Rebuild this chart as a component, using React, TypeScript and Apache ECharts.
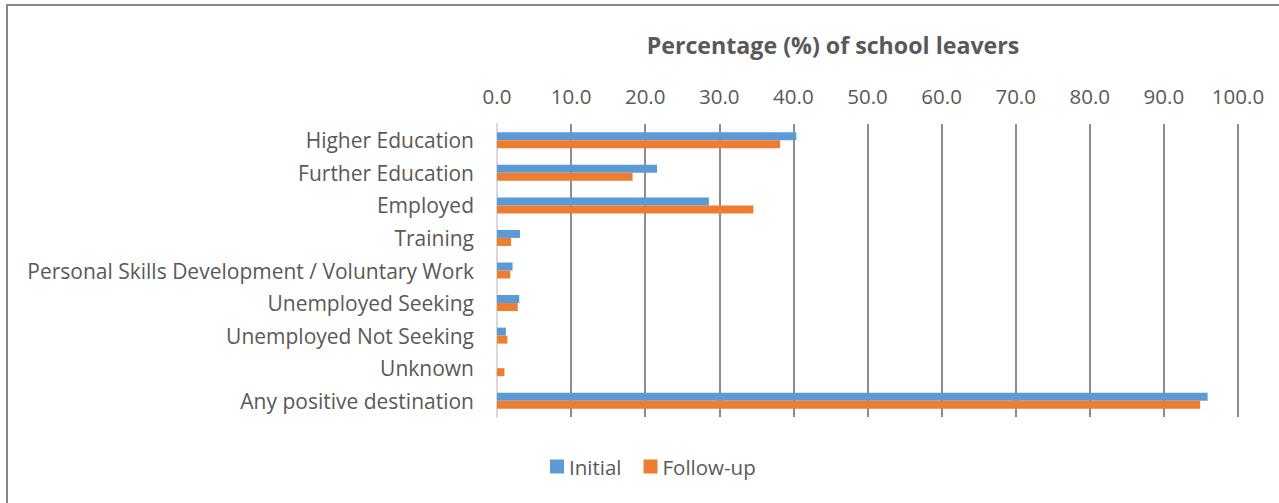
import React, { useEffect, useRef } from "react";
import * as echarts from "echarts";

const categories = [
  "Higher Education",
  "Further Education",
  "Employed",
  "Training",
  "Personal Skills Development / Voluntary Work",
  "Unemployed Seeking",
  "Unemployed Not Seeking",
  "Unknown",
  "Any positive destination",
];
const initial = [40.4, 21.6, 28.6, 3.1, 2.1, 3.0, 1.2, 0.0, 95.9];
const followUp = [38.2, 18.3, 34.6, 1.9, 1.8, 2.8, 1.4, 1.0, 94.9];
const seriesNames = ["Initial", "Follow-up"];
const title = "Percentage (%) of school leavers";

const FONT = "'Open Sans', 'Noto Sans', sans-serif";
const TEXT = "#595959";

export default function App() {
  const ref = useRef<HTMLDivElement>(null);
  useEffect(() => {
    if (!ref.current) return;
    const chart = echarts.init(ref.current, undefined, { renderer: "svg" });
    chart.setOption({
      animation: false,
      backgroundColor: "#ffffff",
      textStyle: { fontFamily: FONT },
      title: {
        text: title,
        left: 828,
        top: 28,
        textAlign: "center",
        textStyle: { fontFamily: FONT, fontWeight: "bold", fontSize: 23.2, color: TEXT },
      },
      legend: {
        bottom: 21,
        left: 545,
        itemWidth: 14,
        itemHeight: 14,
        itemGap: 22,
        icon: "rect",
        textStyle: { fontFamily: FONT, fontSize: 20.5, color: TEXT, padding: [0, 0, 0, 0] },
        data: seriesNames,
      },
      grid: { left: 497, right: 41, top: 124, height: 293, containLabel: false },
      xAxis: {
        type: "value",
        position: "top",
        min: 0,
        max: 100,
        interval: 10,
        axisLine: { show: false },
        axisTick: { show: false },
        axisLabel: {
          formatter: (v: number) => v.toFixed(1),
          fontFamily: FONT,
          fontSize: 20.5,
          color: TEXT,
          margin: 18,
        },
        splitLine: { show: true, lineStyle: { color: "#8c8c8c", width: 2 } },
      },
      yAxis: {
        type: "category",
        data: categories,
        inverse: true,
        axisLine: { show: true, lineStyle: { color: "#d9d9d9", width: 2 } },
        axisTick: { show: false },
        axisLabel: { fontFamily: FONT, fontSize: 21, color: TEXT, margin: 23, padding: [0, 0, 2, 0] },
      },
      series: [
        {
          name: seriesNames[0],
          type: "bar",
          data: initial,
          itemStyle: { color: "#5b9bd5" },
          barWidth: 8,
          barGap: "0%",
        },
        {
          name: seriesNames[1],
          type: "bar",
          data: followUp,
          itemStyle: { color: "#ed7d31" },
          barWidth: 8,
          barGap: "0%",
        },
      ],
      graphic: [
        {
          type: "polyline",
          shape: { points: [[7, 510], [7, 5], [1290, 5]] },
          style: { stroke: "#888888", lineWidth: 2, fill: "none" },
        },
      ],
    });
    return () => chart.dispose();
  }, []);
  return (
    <div
      ref={ref}
      style={{ position: "fixed", left: 0, top: 0, width: 1279, height: 503 }}
    />
  );
}
